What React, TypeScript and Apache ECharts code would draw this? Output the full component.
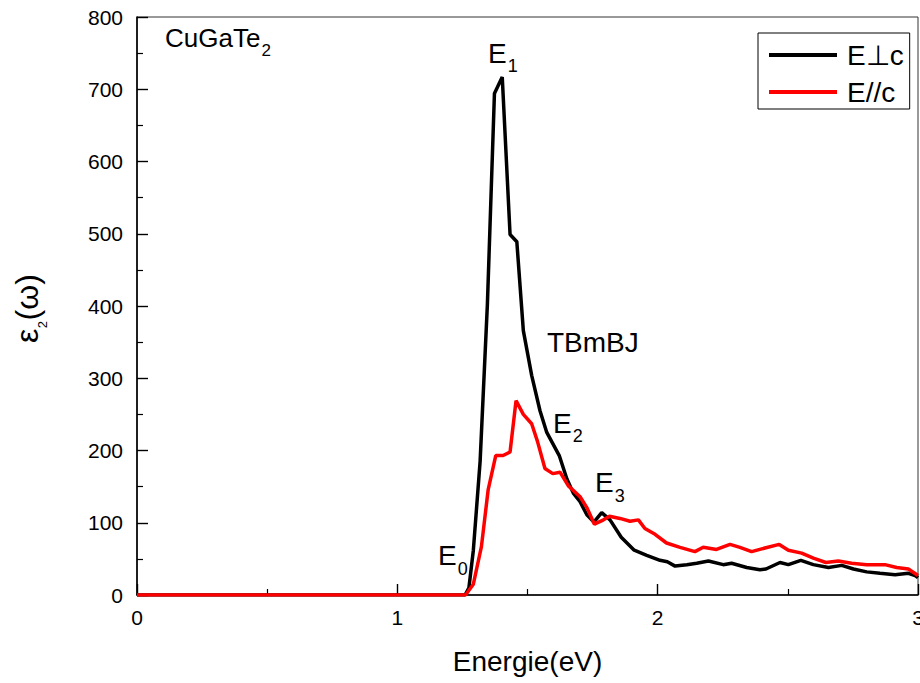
import React, { useEffect, useRef } from "react";
import * as echarts from "echarts";

// E perpendicular c (black)
const energyPerp = [
  0, 1.26, 1.275, 1.292, 1.318, 1.346, 1.373, 1.403, 1.433, 1.459, 1.484, 1.516, 1.548, 1.574,
  1.622, 1.651, 1.676, 1.702, 1.728, 1.755, 1.785, 1.817, 1.86, 1.91, 1.958, 2.009, 2.037,
  2.067, 2.112, 2.15, 2.195, 2.252, 2.284, 2.342, 2.393, 2.416, 2.47, 2.502, 2.55, 2.598,
  2.656, 2.707, 2.752, 2.803, 2.854, 2.912, 2.963, 2.989, 3.0,
];
const epsPerp = [
  0, 0, 10, 62, 185, 403, 694, 717, 499, 489, 366, 304, 255, 225,
  193, 161, 141, 129, 111, 101, 114, 104, 80, 62, 55, 48, 46,
  40, 42, 44, 47, 42, 44, 38, 35, 36, 45, 42, 48, 42,
  38, 41, 36, 32, 30, 28, 30, 27, 24,
];

// E parallel c (red)
const energyPar = [
  0, 1.262, 1.292, 1.323, 1.349, 1.378, 1.406, 1.433, 1.456, 1.484, 1.516, 1.538, 1.567, 1.597,
  1.625, 1.657, 1.702, 1.728, 1.757, 1.792, 1.815, 1.855, 1.894, 1.926, 1.951, 1.99, 2.034,
  2.086, 2.143, 2.175, 2.226, 2.278, 2.316, 2.361, 2.412, 2.467, 2.502, 2.553, 2.598, 2.646,
  2.694, 2.745, 2.803, 2.873, 2.918, 2.963, 3.0,
];
const epsPar = [
  0, 0, 15, 67, 146, 193, 193, 198, 269, 250, 237, 213, 175, 168,
  170, 151, 136, 121, 98, 104, 109, 106, 102, 104, 92, 84, 72,
  66, 60, 66, 63, 70, 66, 60, 65, 70, 62, 58, 51, 45,
  47, 44, 42, 42, 38, 36, 27,
];

const seriesNames = ["E\u22A5c", "E//c"];
const xTicks = { min: 0, max: 3, interval: 1 };
const yTicks = { min: 0, max: 800, interval: 100 };

const FONT = '"Liberation Sans", Arial, sans-serif';

function measure(text: string, size: number): number {
  const ctx = document.createElement("canvas").getContext("2d");
  if (!ctx) return text.length * size * 0.55;
  ctx.font = `${size}px ${FONT}`;
  return ctx.measureText(text).width;
}

function txt(text: string, x: number, baseline: number, size: number) {
  return {
    type: "text",
    x,
    y: baseline - 0.35 * size,
    silent: true,
    style: {
      text,
      font: `${size}px ${FONT}`,
      fill: "#000",
      align: "left",
      verticalAlign: "middle",
    },
  };
}

function subLabel(main: string, sub: string, x: number, base: number, size: number, subSize: number, drop: number) {
  const w = measure(main, size);
  return [txt(main, x, base, size), txt(sub, x + w + 1, base + drop, subSize)];
}

export default function App() {
  const ref = useRef<HTMLDivElement>(null);

  useEffect(() => {
    document.body.style.margin = "0";
    if (!ref.current) return;
    const chart = echarts.init(ref.current, undefined, { renderer: "svg" });

    const perpData = energyPerp.map((x, i) => [x, epsPerp[i]]);
    const parData = energyPar.map((x, i) => [x, epsPar[i]]);

    // y axis title: epsilon_2(omega), rotated
    const yMain = 32;
    const ySub = 13;
    const wEps = measure("\u03B5", yMain);
    const wSub = measure("2", ySub);
    const yTitle = {
      type: "group",
      x: 38,
      y: 343,
      rotation: Math.PI / 2,
      children: [
        txt("\u03B5", 0, 0, yMain),
        txt("2", wEps + 0.5, 9, ySub),
        txt("(\u03C9)", wEps + wSub + 1, 0, yMain),
      ],
    };

    const graphics: any[] = [
      ...subLabel("CuGaTe", "2", 165, 47, 26, 17, 9),
      ...subLabel("E", "1", 488, 63, 28, 18, 9.5),
      ...subLabel("E", "0", 438, 565, 28, 18, 10),
      ...subLabel("E", "2", 553, 433, 28, 18, 9),
      ...subLabel("E", "3", 595, 492, 28, 18, 10),
      txt("TBmBJ", 547, 352, 28),
      yTitle,
    ];

    const axisCommon = {
      axisLine: { show: true, lineStyle: { color: "#000", width: 1.6 } },
      axisTick: { show: true, inside: true, length: 11, lineStyle: { color: "#000", width: 1.4 } },
      minorTick: { show: true, splitNumber: 2, length: 6, lineStyle: { color: "#000", width: 1.2 } },
      splitLine: { show: false },
      minorSplitLine: { show: false },
    };

    chart.setOption({
      animation: false,
      backgroundColor: "#fff",
      grid: {
        left: 137,
        right: 2,
        top: 17,
        bottom: 88,
        show: true,
        borderColor: "#333",
        borderWidth: 1,
        backgroundColor: "transparent",
        containLabel: false,
        outerBoundsMode: "none",
      },
      legend: {
        data: seriesNames,
        orient: "vertical",
        left: 758,
        top: 33,
        padding: [6, 6, 1, 11],
        itemGap: 5,
        itemWidth: 68,
        itemHeight: 4,
        icon: "rect",
        borderColor: "#000",
        borderWidth: 1,
        backgroundColor: "#fff",
        textStyle: { fontFamily: FONT, fontSize: 28, color: "#000", lineHeight: 32, padding: [0, 0, 0, 5] },
      },
      xAxis: {
        type: "value",
        min: xTicks.min,
        max: xTicks.max,
        interval: xTicks.interval,
        name: "Energie(eV)",
        nameLocation: "middle",
        nameGap: 52,
        nameTextStyle: { fontFamily: FONT, fontSize: 28, color: "#000" },
        axisLabel: { fontFamily: FONT, fontSize: 21, color: "#000", margin: 12, showMaxLabel: true, showMinLabel: true },
        ...axisCommon,
      },
      yAxis: {
        type: "value",
        min: yTicks.min,
        max: yTicks.max,
        interval: yTicks.interval,
        axisLabel: { fontFamily: FONT, fontSize: 21, color: "#000", margin: 14 },
        ...axisCommon,
      },
      series: [
        {
          name: seriesNames[0],
          type: "line",
          data: perpData,
          showSymbol: false,
          symbol: "none",
          lineStyle: { color: "#000", width: 3.5 },
          itemStyle: { color: "#000" },
          z: 3,
        },
        {
          name: seriesNames[1],
          type: "line",
          data: parData,
          showSymbol: false,
          symbol: "none",
          lineStyle: { color: "#ff0000", width: 3.5 },
          itemStyle: { color: "#ff0000" },
          z: 4,
        },
      ],
      graphic: graphics,
    });

    return () => chart.dispose();
  }, []);

  return <div ref={ref} style={{ width: 920, height: 683 }} />;
}
